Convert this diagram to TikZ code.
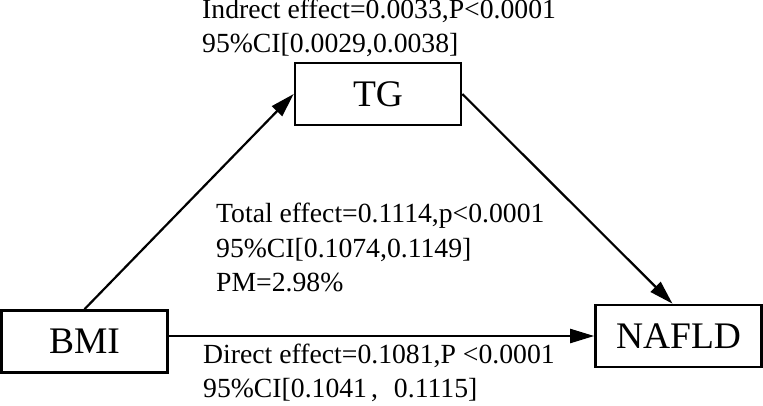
\documentclass[tikz,border=0pt]{standalone}
\usepackage{fontspec}
\setmainfont{Liberation Serif}
\usetikzlibrary{arrows.meta}

\begin{document}
\begin{tikzpicture}[x=1pt, y=-1pt,
	box/.style={draw, line width=2.6pt, minimum width=166pt, minimum height=62pt, inner sep=0pt, font=\fontsize{37.5}{42}\selectfont},
	lbl/.style={anchor=base west, align=left, inner sep=0pt, font=\fontsize{27.7}{34.5}\selectfont},
	arr/.style={line width=2.2pt, -{Triangle[length=24pt, width=14pt]}}]
	\useasboundingbox (0,0) rectangle (763,405);
	\node[box] (tg) at (378,94) {TG};
	\node[box] (bmi) at (84.5,341.5) {BMI};
	\node[box] (nafld) at (678.5,336) {NAFLD};
	
	\draw[arr] (bmi.north) -- (tg.west);
	\draw[arr] (tg.east) -- ([xshift=-6pt]nafld.north);
	\draw[arr] (bmi.east |- nafld.west) -- (nafld.west);
	
	% base = last line
	\node[lbl] (ind) at (202,52.7) {Indrect effect=0.0033,P<0.0001\\95\%CI[0.0029,0.0038]};
	\node[lbl] (tot) at (216,291.7) {Total effect=0.1114,p<0.0001\\95\%CI[0.1074,0.1149]\\PM=2.98\%};
	\node[lbl] (dir) at (203,397.7) {Direct effect=0.1081,P <0.0001\\95\%CI[0.1041\hspace{4pt},\hspace{16pt}0.1115]};
\end{tikzpicture}
\end{document}
